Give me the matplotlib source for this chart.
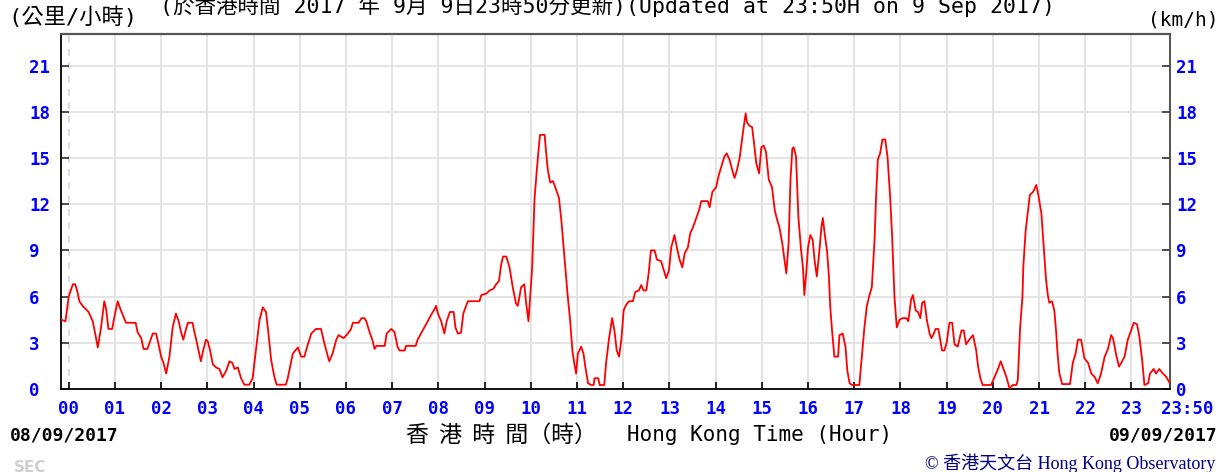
import matplotlib.pyplot as plt
from matplotlib.transforms import ScaledTranslation

# 10-min mean wind speed, 08/09/2017 23:50 -> 09/09/2017 23:50 (hours from midnight, km/h)
hours = [
    -0.167, -0.07, 0.0, 0.09, 0.14, 0.19, 0.23, 0.30, 0.43, 0.52, 0.56, 0.63, 0.70, 0.77, 0.81,
    0.86, 0.94, 0.99, 1.06, 1.13, 1.20, 1.24, 1.45, 1.49, 1.57, 1.62, 1.70, 1.75, 1.82, 1.89,
    1.93, 2.00, 2.05, 2.11, 2.18, 2.25, 2.32, 2.38, 2.43, 2.48, 2.54, 2.58, 2.68, 2.72, 2.76,
    2.81, 2.86, 2.91, 2.97, 3.01, 3.06, 3.12, 3.19, 3.26, 3.33, 3.41, 3.48, 3.54, 3.59, 3.66,
    3.73, 3.80, 3.91, 3.98, 4.05, 4.13, 4.20, 4.27, 4.33, 4.38, 4.45, 4.50, 4.70, 4.74, 4.85,
    4.96, 5.03, 5.10, 5.17, 5.25, 5.35, 5.46, 5.53, 5.61, 5.64, 5.71, 5.79, 5.84, 5.95, 6.04,
    6.11, 6.15, 6.27, 6.34, 6.40, 6.44, 6.51, 6.57, 6.62, 6.66, 6.84, 6.88, 6.98, 7.05, 7.12,
    7.16, 7.27, 7.30, 7.51, 7.55, 7.66, 7.77, 7.84, 7.92, 7.95, 7.99, 8.06, 8.13, 8.18, 8.25,
    8.33, 8.37, 8.42, 8.49, 8.54, 8.60, 8.64, 8.89, 8.93, 9.04, 9.11, 9.19, 9.25, 9.31, 9.36,
    9.40, 9.47, 9.54, 9.61, 9.68, 9.72, 9.79, 9.86, 9.90, 9.95, 10.03, 10.08, 10.13, 10.17, 10.20,
    10.30, 10.33, 10.37, 10.42, 10.48, 10.53, 10.61, 10.66, 10.71, 10.75, 10.80, 10.85, 10.90, 10.94, 10.98,
    11.02, 11.09, 11.14, 11.18, 11.24, 11.31, 11.36, 11.38, 11.46, 11.49, 11.59, 11.63, 11.69, 11.76, 11.81,
    11.86, 11.91, 11.96, 12.01, 12.06, 12.13, 12.21, 12.26, 12.34, 12.39, 12.44, 12.50, 12.55, 12.60, 12.68,
    12.73, 12.82, 12.88, 12.93, 12.99, 13.04, 13.11, 13.16, 13.22, 13.28, 13.33, 13.40, 13.45, 13.51, 13.58,
    13.64, 13.69, 13.83, 13.87, 13.93, 14.01, 14.07, 14.12, 14.19, 14.24, 14.30, 14.37, 14.41, 14.46, 14.52,
    14.58, 14.63, 14.65, 14.68, 14.73, 14.79, 14.83, 14.88, 14.94, 14.99, 15.04, 15.09, 15.15, 15.22, 15.28,
    15.33, 15.38, 15.44, 15.49, 15.53, 15.58, 15.62, 15.66, 15.69, 15.74, 15.79, 15.85, 15.89, 15.92, 15.96,
    16.00, 16.05, 16.10, 16.14, 16.19, 16.24, 16.29, 16.32, 16.36, 16.41, 16.45, 16.48, 16.52, 16.57, 16.65,
    16.68, 16.75, 16.81, 16.85, 16.90, 16.95, 17.11, 17.17, 17.22, 17.27, 17.33, 17.38, 17.44, 17.47, 17.51,
    17.56, 17.61, 17.67, 17.72, 17.78, 17.82, 17.87, 17.92, 17.98, 18.05, 18.13, 18.17, 18.23, 18.27, 18.33,
    18.38, 18.43, 18.47, 18.52, 18.57, 18.63, 18.67, 18.72, 18.76, 18.82, 18.86, 18.90, 18.95, 19.00, 19.06,
    19.12, 19.17, 19.24, 19.32, 19.37, 19.42, 19.49, 19.57, 19.64, 19.68, 19.73, 19.78, 19.96, 20.04, 20.11,
    20.17, 20.23, 20.29, 20.36, 20.43, 20.51, 20.54, 20.59, 20.64, 20.66, 20.71, 20.76, 20.80, 20.87, 20.94,
    20.99, 21.05, 21.08, 21.12, 21.15, 21.19, 21.22, 21.28, 21.33, 21.37, 21.40, 21.44, 21.50, 21.67, 21.73,
    21.79, 21.84, 21.91, 21.98, 22.06, 22.13, 22.20, 22.27, 22.34, 22.42, 22.49, 22.56, 22.60, 22.67, 22.73,
    22.78, 22.85, 22.92, 22.99, 23.05, 23.12, 23.17, 23.23, 23.28, 23.36, 23.40, 23.48, 23.53, 23.60, 23.68,
    23.75, 23.83,
]
kmh = [
    4.5, 4.4, 6.0, 6.8, 6.8, 6.3, 5.7, 5.4, 5.0, 4.4, 3.8, 2.7, 4.0, 5.7, 5.2,
    3.9, 3.9, 4.7, 5.7, 5.1, 4.6, 4.3, 4.3, 3.7, 3.3, 2.6, 2.6, 3.0, 3.6, 3.6,
    3.1, 2.1, 1.7, 1.0, 2.1, 4.0, 4.9, 4.4, 3.7, 3.2, 3.9, 4.3, 4.3, 3.7, 3.2,
    2.5, 1.8, 2.5, 3.2, 3.1, 2.5, 1.6, 1.4, 1.3, 0.76, 1.2, 1.8, 1.7, 1.3, 1.4,
    0.7, 0.28, 0.28, 0.7, 2.5, 4.5, 5.3, 5.0, 3.4, 1.9, 0.8, 0.28, 0.28, 0.7, 2.3,
    2.7, 2.1, 2.1, 2.85, 3.6, 3.9, 3.9, 3.0, 2.1, 1.8, 2.3, 3.2, 3.5, 3.3, 3.6,
    3.9, 4.3, 4.3, 4.6, 4.6, 4.4, 3.7, 3.2, 2.6, 2.8, 2.8, 3.6, 3.9, 3.7, 2.7,
    2.5, 2.5, 2.8, 2.8, 3.2, 3.8, 4.4, 4.8, 5.2, 5.4, 4.9, 4.4, 3.6, 4.4, 5.0,
    5.0, 4.0, 3.6, 3.65, 4.9, 5.4, 5.7, 5.7, 6.1, 6.2, 6.4, 6.5, 6.8, 7.0, 8.1,
    8.6, 8.6, 7.9, 6.6, 5.55, 5.4, 6.6, 6.8, 5.55, 4.4, 7.9, 12.3, 14.2, 15.6, 16.5,
    16.5, 15.4, 14.2, 13.4, 13.5, 13.1, 12.4, 11.0, 9.2, 7.7, 6.0, 4.5, 2.5, 1.7, 1.0,
    2.3, 2.75, 2.3, 1.45, 0.37, 0.26, 0.26, 0.7, 0.7, 0.26, 0.26, 1.7, 3.2, 4.6, 3.8,
    2.5, 2.1, 3.2, 5.1, 5.45, 5.7, 5.7, 6.3, 6.4, 6.75, 6.4, 6.4, 7.5, 9.0, 9.0,
    8.4, 8.3, 7.7, 7.2, 7.7, 9.2, 10.0, 9.2, 8.4, 7.9, 8.8, 9.2, 10.1, 10.5, 11.1,
    11.6, 12.2, 12.2, 11.8, 12.8, 13.1, 13.9, 14.4, 15.1, 15.3, 14.9, 14.1, 13.7, 14.2, 15.0,
    16.4, 17.5, 17.9, 17.3, 17.1, 17.0, 16.0, 14.65, 14.0, 15.7, 15.8, 15.4, 13.6, 13.1, 11.6,
    11.0, 10.5, 9.5, 8.4, 7.5, 9.5, 13.6, 15.6, 15.7, 15.1, 11.2, 9.0, 7.9, 6.1, 7.5,
    9.2, 10.0, 9.7, 8.4, 7.3, 8.8, 10.5, 11.1, 10.1, 9.0, 7.4, 5.35, 3.8, 2.1, 2.1,
    3.5, 3.6, 2.75, 1.2, 0.37, 0.26, 0.26, 2.3, 4.0, 5.35, 6.1, 6.6, 9.7, 12.3, 14.9,
    15.3, 16.2, 16.2, 15.1, 12.3, 9.9, 6.0, 4.0, 4.5, 4.6, 4.6, 4.4, 5.8, 6.1, 5.1,
    5.0, 4.6, 5.6, 5.7, 4.5, 3.6, 3.3, 3.6, 3.9, 3.9, 3.2, 2.5, 2.5, 3.0, 4.3,
    4.3, 2.9, 2.75, 3.8, 3.8, 2.9, 3.2, 3.5, 2.5, 1.45, 0.7, 0.26, 0.26, 0.8, 1.3,
    1.8, 1.3, 0.8, 0.04, 0.26, 0.26, 0.6, 4.0, 6.0, 8.0, 10.3, 11.6, 12.6, 12.8, 13.25,
    12.5, 11.4, 10.1, 8.4, 7.1, 6.1, 5.6, 5.7, 5.1, 3.7, 2.3, 1.0, 0.32, 0.32, 1.7,
    2.3, 3.2, 3.2, 2.0, 1.7, 1.0, 0.8, 0.37, 1.0, 2.1, 2.6, 3.5, 3.3, 2.2, 1.45,
    1.7, 2.1, 3.2, 3.8, 4.3, 4.2, 3.4, 1.9, 0.26, 0.37, 1.0, 1.3, 1.0, 1.3, 1.0,
    0.8, 0.37,
]

hour_ticks = list(range(24))
hour_labels = ['%02d' % h for h in hour_ticks]
end_hour = 23 + 50 / 60
end_label = '23:50'
speed_ticks = [0, 3, 6, 9, 12, 15, 18, 21]

title_text = '(於香港時間 2017 年 9月 9日23時50分更新)(Updated at 23:50H on 9 Sep 2017)'
unit_zh = '(公里/小時)'
unit_en = '(km/h)'
start_date = '08/09/2017'
end_date = '09/09/2017'
xlabel_zh = '香  港  時  間（時）'
xlabel_en = 'Hong Kong Time (Hour)'
credit = '© 香港天文台 Hong Kong Observatory'

mono = ['DejaVu Sans Mono', 'Noto Sans CJK TC']
blue = '#0000ff'
grid_col = '#e4e4e4'

W, H = 1221, 472
fig = plt.figure(figsize=(W / 100, H / 100), dpi=100)
ax = fig.add_axes([61 / W, 1 - 389 / H, (1170 - 61) / W, (389 - 34) / H])

# grid: dashed at midnight, solid elsewhere
for h in hour_ticks[1:]:
    ax.axvline(h, color=grid_col, lw=1.4, zorder=0)
ax.axvline(0, color='#d4d4d4', lw=1.2, ls=(0, (4, 4)), zorder=0)
for s in speed_ticks[1:]:
    ax.axhline(s, color=grid_col, lw=1.4, zorder=0)

ax.plot(hours, kmh, color='#ff0000', lw=1.3, zorder=3)

ax.set_xlim(-1 / 6, end_hour)
ax.set_ylim(0, 23.05)

ax.spines['left'].set_color('black')
ax.spines['bottom'].set_color('black')
ax.spines['right'].set_color('#444444')
ax.spines['top'].set_color('#555555')
for side in ['left', 'right', 'bottom']:
    ax.spines[side].set_linewidth(1.3)
ax.spines['top'].set_linewidth(1.6)

ax.set_xticks(hour_ticks + [end_hour])
ax.set_xticklabels(hour_labels + [end_label])
ax.tick_params(axis='x', direction='in', length=5, width=1.2, color='black', pad=8,
               labelcolor=blue, labelsize=12.5)
for lab in ax.get_xticklabels():
    lab.set_fontfamily('DejaVu Sans Mono')
    lab.set_fontweight('bold')
ax.get_xticklabels()[-1].set_transform(
    ax.get_xticklabels()[-1].get_transform() + ScaledTranslation(0.17, 0, fig.dpi_scale_trans))

ax.set_yticks(speed_ticks)
ax.set_yticklabels([str(s) for s in speed_ticks])
ax.tick_params(axis='y', direction='in', length=5.5, width=1.2, color='#333333',
               labelcolor=blue, labelsize=12.5, pad=23,
               left=True, right=True, labelleft=True, labelright=True)
for t in ax.yaxis.get_major_ticks():
    for lab in (t.label1, t.label2):
        lab.set_fontfamily('DejaVu Sans Mono')
        lab.set_fontweight('bold')
    t.label1.set_horizontalalignment('left')
    t.label2.set_transform(t.label2.get_transform() + ScaledTranslation(-0.26, 0, fig.dpi_scale_trans))

# header texts
fig.text(160 / W, 1 - 6 / H, title_text, family=mono, fontsize=15.5, va='center', ha='left')
fig.text(8 / W, 1 - 17 / H, unit_zh, family=mono, fontsize=16, va='center', ha='left')
fig.text(1218 / W, 1 - 20 / H, unit_en, family=mono, fontsize=14, va='center', ha='right')

# footer texts
fig.text(10 / W, 1 - 435 / H, start_date, family='DejaVu Sans Mono', fontweight='bold',
         fontsize=13, va='center', ha='left')
fig.text(1218 / W, 1 - 435 / H, end_date, family='DejaVu Sans Mono', fontweight='bold',
         fontsize=13, va='center', ha='right')
fig.text(406 / W, 1 - 435 / H, xlabel_zh, family='Noto Sans CJK TC', fontsize=16.5,
         va='center', ha='left')
fig.text(627 / W, 1 - 435 / H, xlabel_en, family='DejaVu Sans Mono', fontsize=15,
         va='center', ha='left')
fig.text(1215 / W, 1 - 463 / H, credit, family=['Liberation Serif', 'Noto Sans CJK TC'],
         fontsize=13, color='#000080', va='center', ha='right')
fig.text(14 / W, 1 - 468 / H, 'SEC', family='DejaVu Sans', fontweight='bold', fontsize=11,
         color='#d0d0d0', va='center', ha='left')

fig.savefig('out.png', dpi=100)
